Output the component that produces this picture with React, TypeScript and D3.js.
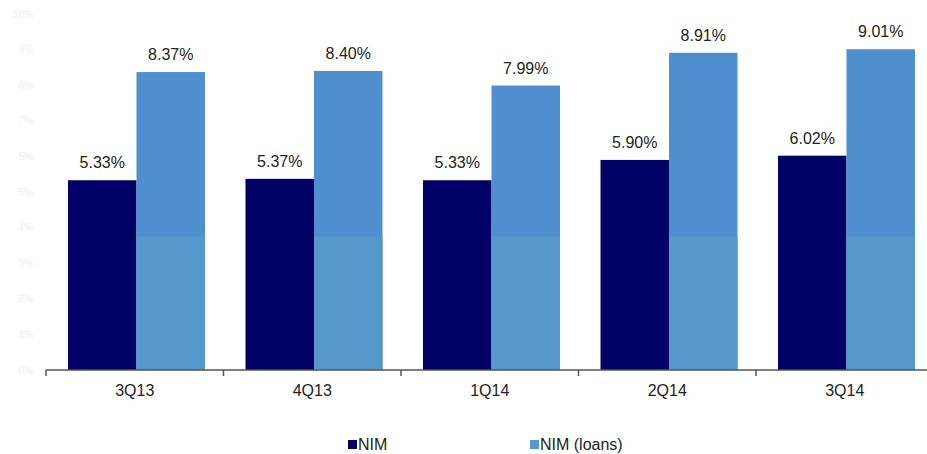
import * as d3 from "d3";
import {useEffect, useRef} from "react";

const quarters = ["3Q13", "4Q13", "1Q14", "2Q14", "3Q14"];
const nim = [5.33, 5.37, 5.33, 5.90, 6.02];
const nimLoans = [8.37, 8.40, 7.99, 8.91, 9.01];
const seriesNames = ["NIM", "NIM (loans)"];
const yTicks = [0, 1, 2, 3, 4, 5, 6, 7, 8, 9, 10];

const W = 927, H = 454;
const FONT = "'Liberation Sans', Arial, sans-serif";

export default function App() {
    const svgRef = useRef<SVGSVGElement>(null);

    useEffect(() => {
        document.body.style.margin = "0";
        const svg = d3.select(svgRef.current);
        svg.selectAll("*").remove();

        const x0 = d3.scaleBand().domain(quarters).range([46, 46 + 177.5 * 5]).paddingInner(0);
        const x1 = d3.scaleBand().domain(seriesNames).range([22, 22 + 137]);
        const y = d3.scaleLinear().domain([0, 10]).range([370, 14]);

        // faint y labels
        svg.append("g").selectAll("text")
            .data(yTicks)
            .enter().append("text")
            .attr("x", 33)
            .attr("y", d => y(d))
            .attr("dy", "0.35em")
            .attr("text-anchor", "end")
            .attr("font-family", FONT)
            .attr("font-size", 10)
            .attr("fill", "#eeeeee")
            .text(d => d + "%");

        const rows = quarters.map((q, i) => ({q, vals: [nim[i], nimLoans[i]]}));
        const colors = ["#000066", "#4f8fcf"];

        const g = svg.append("g").selectAll("g")
            .data(rows)
            .enter().append("g")
            .attr("transform", d => `translate(${x0(d.q)},0)`);

        g.selectAll("rect.bar")
            .data(d => d.vals.map((v, j) => ({v, s: seriesNames[j], j})))
            .enter().append("rect")
            .attr("class", "bar")
            .attr("x", d => x1(d.s)!)
            .attr("y", d => y(d.v))
            .attr("width", x1.bandwidth())
            .attr("height", d => y(0) - y(d.v))
            .attr("fill", d => colors[d.j]);

        // lighter lower tone on the loans bars
        g.append("rect")
            .attr("x", x1("NIM (loans)")!)
            .attr("y", y(3.75))
            .attr("width", x1.bandwidth())
            .attr("height", y(0) - y(3.75))
            .attr("fill", "#5599cc");

        g.selectAll("text.lbl")
            .data(d => d.vals.map((v, j) => ({v, s: seriesNames[j]})))
            .enter().append("text")
            .attr("class", "lbl")
            .attr("x", d => x1(d.s)! + x1.bandwidth() / 2)
            .attr("y", d => y(d.v) - 12)
            .attr("text-anchor", "middle")
            .attr("font-family", FONT)
            .attr("font-size", 16)
            .attr("fill", "#222")
            .text(d => d.v.toFixed(2) + "%");

        // x axis
        const axis = svg.append("g");
        axis.append("line")
            .attr("x1", 46).attr("x2", W)
            .attr("y1", y(0)).attr("y2", y(0))
            .attr("stroke", "#555").attr("stroke-width", 1.5);
        axis.selectAll("line.tick")
            .data(quarters)
            .enter().append("line")
            .attr("class", "tick")
            .attr("x1", d => x0(d)!).attr("x2", d => x0(d)!)
            .attr("y1", y(0)).attr("y2", y(0) + 6)
            .attr("stroke", "#555").attr("stroke-width", 1.5);
        axis.selectAll("text")
            .data(quarters)
            .enter().append("text")
            .attr("x", d => x0(d)! + x0.bandwidth() / 2)
            .attr("y", 396)
            .attr("text-anchor", "middle")
            .attr("font-family", FONT)
            .attr("font-size", 16)
            .attr("fill", "#222")
            .text(d => d);

        // legend
        const legendX = [348, 530];
        const lg = svg.append("g").selectAll("g")
            .data(seriesNames)
            .enter().append("g")
            .attr("transform", (d, i) => `translate(${legendX[i]},445)`);
        lg.append("rect")
            .attr("x", 0).attr("y", -5)
            .attr("width", 9).attr("height", 9)
            .attr("fill", (d, i) => i === 0 ? "#000066" : "#5599cc");
        lg.append("text")
            .attr("x", 10).attr("y", 5)
            .attr("font-family", FONT)
            .attr("font-size", 16)
            .attr("fill", "#222")
            .text(d => d);
    }, []);

    return (
        <svg ref={svgRef} width={W} height={H} style={{display: "block", background: "#fff"}}/>
    );
}
